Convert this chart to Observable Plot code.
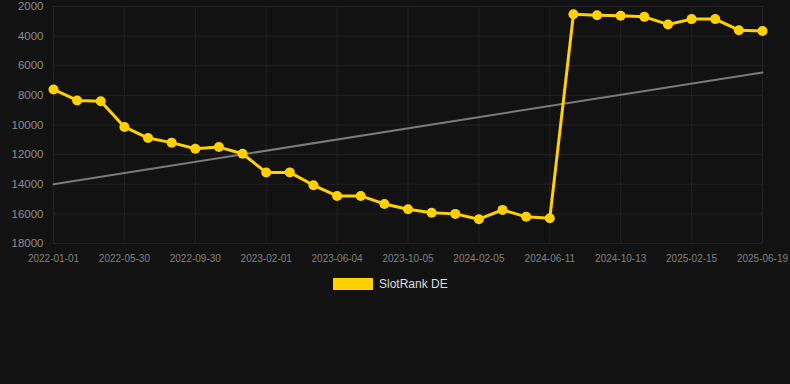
<!DOCTYPE html>
<html>
<head>
<meta charset="utf-8">
<script src="https://cdn.jsdelivr.net/npm/d3@7"></script>
<script src="https://cdn.jsdelivr.net/npm/@observablehq/plot@0.6"></script>
<style>
  html, body { margin: 0; padding: 0; background: #121212; }
  body { width: 790px; height: 384px; overflow: hidden; font-family: "Liberation Sans", Arial, sans-serif; }
  #legend { display: flex; align-items: center; margin-left: 333px; margin-top: 8px; height: 12px; }
  #legend .sw { width: 40px; height: 12px; background: #FFD100; }
  #legend .lb { margin-left: 6px; color: #dddddd; font-size: 12px; line-height: 12px; }
</style>
</head>
<body>
<div id="chart"></div>
<div id="legend"><div class="sw"></div><div class="lb">SlotRank DE</div></div>
<script>
const dates = [
  "2022-01-01","2022-02-19","2022-04-10","2022-05-30","2022-07-10","2022-08-20",
  "2022-09-30","2022-11-10","2022-12-21","2023-02-01","2023-03-14","2023-04-24",
  "2023-06-04","2023-07-15","2023-08-25","2023-10-05","2023-11-15","2023-12-26",
  "2024-02-05","2024-03-18","2024-04-30","2024-06-11","2024-07-22","2024-09-01",
  "2024-10-13","2024-11-23","2025-01-04","2025-02-15","2025-03-28","2025-05-09",
  "2025-06-19"
];
const ranks = [
  7600, 8340, 8400, 10130, 10880, 11190,
  11600, 11490, 11940, 13210, 13200, 14070,
  14790, 14790, 15330, 15690, 15930, 16000,
  16360, 15730, 16200, 16300, 2520, 2590,
  2630, 2700, 3210, 2850, 2850, 3600,
  3660
];
const tickLabels = [
  "2022-01-01","2022-05-30","2022-09-30","2023-02-01","2023-06-04","2023-10-05",
  "2024-02-05","2024-06-11","2024-10-13","2025-02-15","2025-06-19"
];
const yTicks = [2000, 4000, 6000, 8000, 10000, 12000, 14000, 16000, 18000];
const trendDates = ["2022-01-01", "2025-06-19"];
const trendValues = [14000, 6450];

const data = dates.map((d, i) => ({date: d, rank: ranks[i]}));
const trend = trendDates.map((d, i) => ({date: d, rank: trendValues[i]}));

const chart = Plot.plot({
  width: 790,
  height: 270,
  marginTop: 6,
  marginBottom: 27,
  marginLeft: 53,
  marginRight: 28,
  style: { background: "#121212", fontFamily: "Liberation Sans, Arial, sans-serif" },
  x: { type: "point", domain: dates, padding: 0, round: false },
  y: { domain: [2000, 18000], reverse: true },
  marks: [
    Plot.gridY(yTicks, { stroke: "#222222", strokeOpacity: 1, strokeWidth: 1 }),
    Plot.gridX(tickLabels, { stroke: "#222222", strokeOpacity: 1, strokeWidth: 1 }),
    Plot.axisY(yTicks, { tickSize: 0, tickPadding: 10, fontSize: 11.5, fill: "#8c8c8c", tickFormat: d => String(d), label: null }),
    Plot.axisX(tickLabels, { tickSize: 0, tickPadding: 11, fontSize: 10, fill: "#808080", label: null }),
    Plot.line(trend, { x: "date", y: "rank", stroke: "#7a7a7a", strokeWidth: 2 }),
    Plot.line(data, { x: "date", y: "rank", stroke: "#FFD100", strokeWidth: 3 }),
    Plot.dot(data, { x: "date", y: "rank", r: 5, fill: "#FFD100", stroke: "none" })
  ]
});
document.getElementById("chart").appendChild(chart);
</script>
</body>
</html>
